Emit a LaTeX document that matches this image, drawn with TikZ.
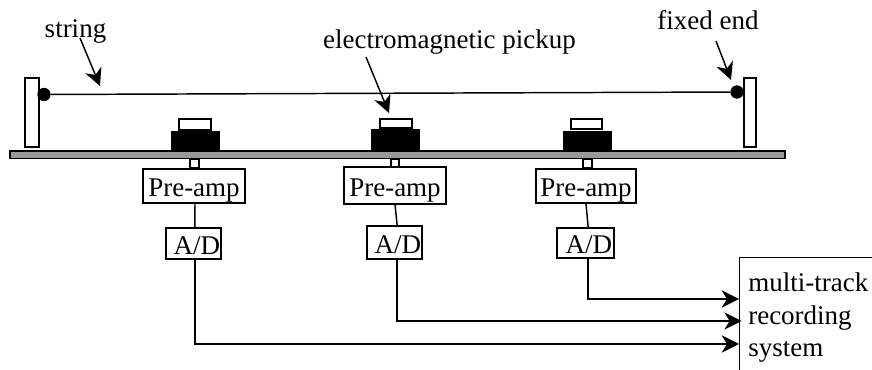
\documentclass[tikz,border=0pt]{standalone}
\usepackage{fontspec}
\setmainfont{Liberation Serif}
\usetikzlibrary{arrows.meta}
\tikzset{
  wire/.style={line width=1.1pt},
  pointer/.style={line width=1.1pt, -{Stealth[length=13pt,width=13pt,inset=4pt]}},
  label/.style={inner sep=0pt, anchor=base, font=\fontsize{20.25}{24}\selectfont},
  textbox/.style={draw=black, line width=1.1pt, inner sep=0pt, font=\fontsize{20.25}{24}\selectfont, text height=17pt, text depth=1pt},
  part/.style={draw=black, line width=1.1pt, fill=white},
  magnet/.style={draw=black, fill=black},
  ball/.style={circle, fill=black, inner sep=0pt, minimum size=10pt}
}
\begin{document}
\begin{tikzpicture}[x=0.75pt, y=-0.75pt]
\useasboundingbox (0,0) rectangle (872,370);
\clip (0,0) rectangle (872,370);
% posts and board
\draw [part] (25,78) rectangle (39,147);
\draw [part] (744,78) rectangle (756,147);
\draw [draw=black, line width=1.1pt, fill=black!40] (10,151) rectangle (785,158.5);
% pickups
\draw [part] (179,119) rectangle (211,130);
\draw [magnet] (171,131) rectangle (219,150);
\draw [part] (190,159) rectangle (199,168);
\draw [part] (380,119) rectangle (412,128);
\draw [magnet] (371,129) rectangle (419,150);
\draw [part] (391,159) rectangle (399,167);
\draw [part] (571,119) rectangle (602,129);
\draw [magnet] (563,131) rectangle (611,150);
\draw [part] (583,159) rectangle (592,168);
% string
\node [ball] (leftend) at (44,94.5) {};
\node [ball] (rightend) at (737,92) {};
\draw [wire] (leftend) -- (rightend);
% labels
\node [label] (lblstring) at (75.5,38) {string};
\node [label] (lblpickup) at (449.5,49) {electromagnetic pickup};
\node [label] (lblfixed) at (708,30) {fixed end};
\coordinate (stringtail) at (80,38);
\coordinate (stringtip) at (100,86);
\coordinate (pickuptail) at (366,57);
\coordinate (pickuptip) at (389,113);
\coordinate (fixedtail) at (716,41);
\coordinate (fixedtip) at (731,80);
\draw [pointer] (stringtail) -- (stringtip);
\draw [pointer] (pickuptail) -- (pickuptip);
\draw [pointer] (fixedtail) -- (fixedtip);
% pre-amps
\node [textbox, minimum width=76.5pt, minimum height=25.5pt] (pre1) at (194,186) {Pre-amp};
\node [textbox, minimum width=76.5pt, minimum height=27.75pt] (pre2) at (395,185.5) {Pre-amp};
\node [textbox, minimum width=75pt, minimum height=25.5pt] (pre3) at (586,186) {Pre-amp};
% converters
\node [textbox, minimum width=41.25pt, minimum height=23.25pt] (ad1) at (193.5,243.5) {\hspace*{5pt}A/D};
\node [textbox, minimum width=41.25pt, minimum height=24.75pt] (ad2) at (394.5,242.5) {\hspace*{5pt}A/D};
\node [textbox, minimum width=42.75pt, minimum height=22.5pt] (ad3) at (585.5,243) {\hspace*{5pt}A/D};
\draw [wire] ([xshift=.75pt]pre1.south) -- ([xshift=1pt]ad1.north);
\draw [wire] (pre2.south) -- ([xshift=2pt]ad2.north);
\draw [wire] (pre3.south) -- ([xshift=2pt]ad3.north);
% recorder
\node [draw=black, line width=1.1pt, inner sep=0pt, minimum width=120pt, minimum height=120pt, anchor=north west] (rec) at (739,257) {};
\node [label, anchor=base west] (rec1) at (748,292) {multi-track};
\node [label, anchor=base west] (rec2) at (748,325) {recording};
\node [label, anchor=base west] (rec3) at (748,357) {system};
\draw [pointer] ([xshift=2pt]ad3.south) |- (rec.west |- 0,299);
\draw [pointer] ([xshift=2pt]ad2.south) |- ([xshift=2pt]rec.west |- 0,321);
\draw [pointer] ([xshift=1pt]ad1.south) |- (rec.west |- 0,344);
\end{tikzpicture}
\end{document}
